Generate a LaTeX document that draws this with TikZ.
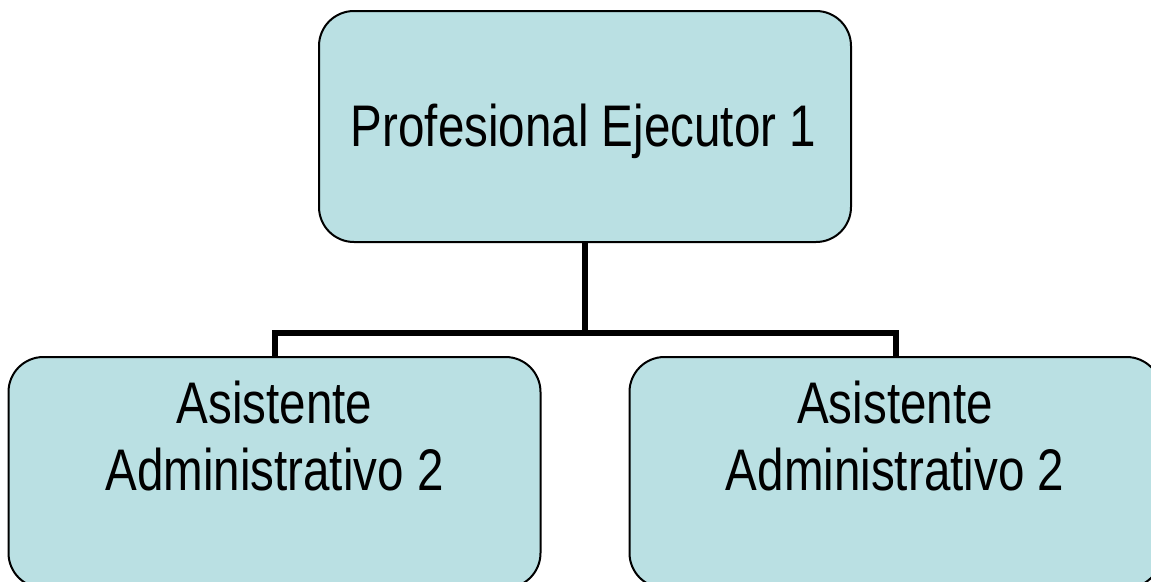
\documentclass[tikz,border=0pt]{standalone}
\usepackage{fontspec}
\setmainfont{Liberation Sans}
\definecolor{boxfill}{RGB}{186,224,227}
\begin{document}
\begin{tikzpicture}[x=1pt,y=-1pt,
  box/.style={draw=black, line width=2pt, fill=boxfill, rounded corners=35pt,
    minimum width=532pt, minimum height=231pt, inner sep=0pt},
  conn/.style={line width=6pt},
  lbl/.style={font=\fontsize{58.7}{67}\selectfont, inner sep=0pt, anchor=base}]
\path[use as bounding box, clip] (0,0) rectangle (1151,581);
\fill[white] (0,0) rectangle (1151,581);
\node[box] (top) at (585,126.5) {};
\node[box] (left) at (274.5,472.5) {};
\node[box] (right) at (895.5,472.5) {};
\coordinate (bus) at (585,333);
\draw[conn] (top.south) -- (bus);
\draw[conn] (left.north) |- (bus) -| (right.north);
\node[lbl] (t1) at (583.5,146) {\scalebox{0.81}[1]{Profesional Ejecutor 1}};
\node[lbl] (l1) at (274.5,423) {\scalebox{0.81}[1]{Asistente}};
\node[lbl] (l2) at (274.5,490) {\scalebox{0.81}[1]{Administrativo 2}};
\node[lbl] (r1) at (895,423) {\scalebox{0.81}[1]{Asistente}};
\node[lbl] (r2) at (895,490) {\scalebox{0.81}[1]{Administrativo 2}};
\end{tikzpicture}
\end{document}
